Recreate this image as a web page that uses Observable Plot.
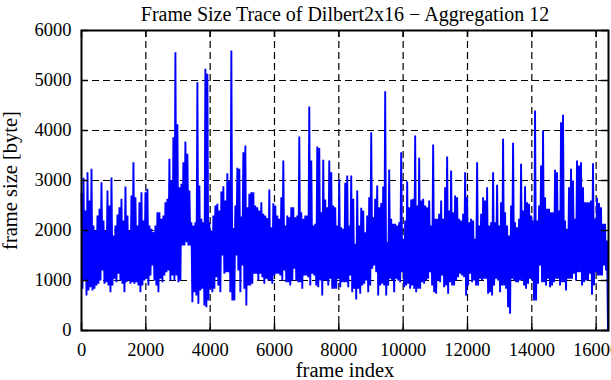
<!DOCTYPE html>
<html><head><meta charset="utf-8">
<script src="https://cdn.jsdelivr.net/npm/d3@7"></script>
<script src="https://cdn.jsdelivr.net/npm/@observablehq/plot@0.6"></script>
<style>html,body{margin:0;padding:0;background:#fff;overflow:hidden}</style>
</head><body><div id="chart"></div>
<script>
const titleText = "Frame Size Trace of Dilbert2x16 \u2212 Aggregation 12";
const xLabel = "frame index";
const yLabel = "frame size [byte]";
const xTicks = [0, 2000, 4000, 6000, 8000, 10000, 12000, 14000, 16000];
const yTicks = [0, 1000, 2000, 3000, 4000, 5000, 6000];
const lastFrame = 16368;

const trace0to4k = [
  2733,833, 3053,1000, 2400,700, 3167,800, 2600,867, 3233,800, 2100,833, 2000,900, 2300,933, 2433,1000,
  2967,1200, 2200,933, 2000,967, 2800,900, 2500,767, 3060,900, 1900,1033, 2100,967, 2320,1133, 2467,1000,
  2633,933, 2200,767, 2880,967, 2300,1000, 2000,933, 2700,967, 3367,933, 2667,967, 2100,900, 2567,767,
  2767,900, 2200,1000, 2767,1033, 2833,900, 2100,1100, 2033,1300, 1967,1000, 2100,900, 2367,767, 2367,1033,
  2233,967, 2300,1100, 2567,1167, 2633,1200, 3433,1000, 3000,1100, 3867,1000, 5567,1100, 4127,967, 2867,1000,
  2933,1700, 3367,1700, 3780,1767, 3533,1700, 2800,1700, 2167,567, 2100,767, 2167,700, 4967,533, 2900,800,
  2233,833, 2167,500, 5233,467, 5133,600, 2167,833, 2000,767
];
const trace4kto8k = [
  2300,833, 2500,1067, 2533,900, 2400,767, 2780,1500, 2887,1133, 2600,1167, 3147,1167, 3000,767, 5600,600,
  2050,600, 2500,1500, 3253,1200, 3233,767, 2280,1300, 3567,833, 3700,500, 2467,900, 2733,900, 2767,933,
  2767,1133, 2500,1133, 2467,1000, 2400,1133, 2567,1067, 2333,933, 2300,1033, 2250,1000, 2820,1000, 2067,933,
  2547,1100, 2500,1133, 2300,1133, 2233,1100, 2667,1000, 3400,1200, 2100,967, 2300,967, 2267,900, 2467,1000,
  2467,1233, 2267,1000, 2300,967, 3880,967, 2367,833, 2233,1100, 2300,1100, 2300,1067, 4480,900, 3400,1133,
  2100,1100, 2133,900, 3680,867, 3650,1000, 2367,700, 3413,1000, 2620,1000, 2467,900, 3400,1033, 3167,833,
  2500,833, 2467,833, 2100,1033, 3020,867, 2067,967, 2033,967
];
const trace8kto12k = [
  2953,967, 3100,867, 2100,1100, 3100,767, 2633,833, 1733,620, 2800,833, 2100,733, 2453,900, 2400,933,
  1967,1000, 2300,767, 2667,900, 3967,1233, 2267,1300, 2633,1167, 2900,700, 2467,900, 2550,933, 2880,900,
  4787,700, 1767,900, 3220,1033, 2233,1000, 2133,767, 2133,1033, 2100,1000, 2167,967, 3567,1167, 1833,867,
  2200,900, 2987,933, 2467,833, 2620,900, 2633,833, 3900,767, 2500,833, 3453,833, 2600,967, 2633,933,
  2500,1000, 2467,1033, 2600,1167, 2100,900, 3720,767, 2233,733, 2233,1000, 2333,967, 2600,1100, 2233,867,
  2867,900, 3480,733, 2400,967, 3200,900, 2367,900, 2700,1000, 2667,1067, 2233,1133, 2200,1100, 2333,1067,
  3167,700, 2667,900, 2167,1133, 2233,967, 2200,1000, 1833,900
];
const trace12kto16k = [
  3367,900, 2100,1033, 2333,1000, 2667,1033, 2600,1033, 2867,733, 2100,767, 2167,700, 3167,900, 2167,1033,
  2913,1000, 2100,767, 2567,900, 3833,900, 2367,833, 2100,467, 1900,333, 2500,1033, 3753,1000, 2167,967,
  2067,967, 2233,1000, 3333,1000, 2400,900, 2887,833, 2567,933, 2533,1033, 2300,1000, 2200,600, 4400,600,
  2200,933, 2500,1300, 3300,967, 4000,967, 2667,900, 2433,1033, 2433,867, 2367,900, 2367,967, 3213,1033,
  3167,1033, 2400,900, 4167,967, 4313,967, 2200,800, 2033,1033, 2867,1033, 3233,1033, 3000,1133, 2233,1000,
  3400,1167, 3300,1167, 3367,900, 2867,967, 2567,1000, 2567,1000, 2567,1133, 2600,713, 3347,900, 2233,1167,
  2653,1100, 2550,1100, 2467,1100, 2133,1300, 2133,1200, 1800,0
];

const sizes = trace0to4k.concat(trace4kto8k, trace8kto12k, trace12kto16k);
const data = sizes.map((v, i) => ({frame: i * lastFrame / (sizes.length - 1), size: v}));

const serif = "'Liberation Serif','Times New Roman',serif";
const dashed = {stroke: "#000", strokeOpacity: 1, strokeWidth: 1.2, strokeDasharray: "7,4"};
const tick = {stroke: "#000", strokeWidth: 1.5};

const chart = Plot.plot({
  width: 611, height: 380,
  marginLeft: 81, marginRight: 3, marginTop: 30, marginBottom: 50,
  style: {fontFamily: serif, fontSize: "18.5px", background: "#fff", color: "#000"},
  x: {domain: [0, 16384]},
  y: {domain: [0, 6000]},
  marks: [
    Plot.gridX(xTicks.filter(d => d > 0), dashed),
    Plot.gridY(yTicks.filter(d => d > 0 && d < 6000), dashed),
    Plot.line(data, {x: "frame", y: "size", stroke: "#0000ff", strokeWidth: 1.9, strokeLinejoin: "miter", strokeMiterlimit: 2}),
    Plot.ruleX(xTicks, {x: d => d, y1: 0, y2: 140, ...tick}),
    Plot.ruleX(xTicks, {x: d => d, y1: 5860, y2: 6000, ...tick}),
    Plot.ruleY(yTicks, {y: d => d, x1: 0, x2: 218, ...tick}),
    Plot.ruleY(yTicks, {y: d => d, x1: 16384 - 218, x2: 16384, ...tick}),
    Plot.frame({stroke: "#000", strokeWidth: 2}),
    Plot.axisX(xTicks, {tickSize: 0, tickPadding: 12, tickFormat: d => String(d), label: null}),
    Plot.axisY(yTicks, {tickSize: 0, tickPadding: 10, tickFormat: d => String(d), label: null}),
    Plot.text([titleText], {text: d => d, frameAnchor: "top", dy: -24, fontSize: 20}),
    Plot.text([xLabel], {text: d => d, frameAnchor: "bottom", dy: 46, fontSize: 20.5}),
    Plot.text([yLabel], {text: d => d, frameAnchor: "left", dx: -71, rotate: -90, textAnchor: "middle", fontSize: 20.5})
  ]
});
document.getElementById("chart").appendChild(chart);
</script>
</body></html>
